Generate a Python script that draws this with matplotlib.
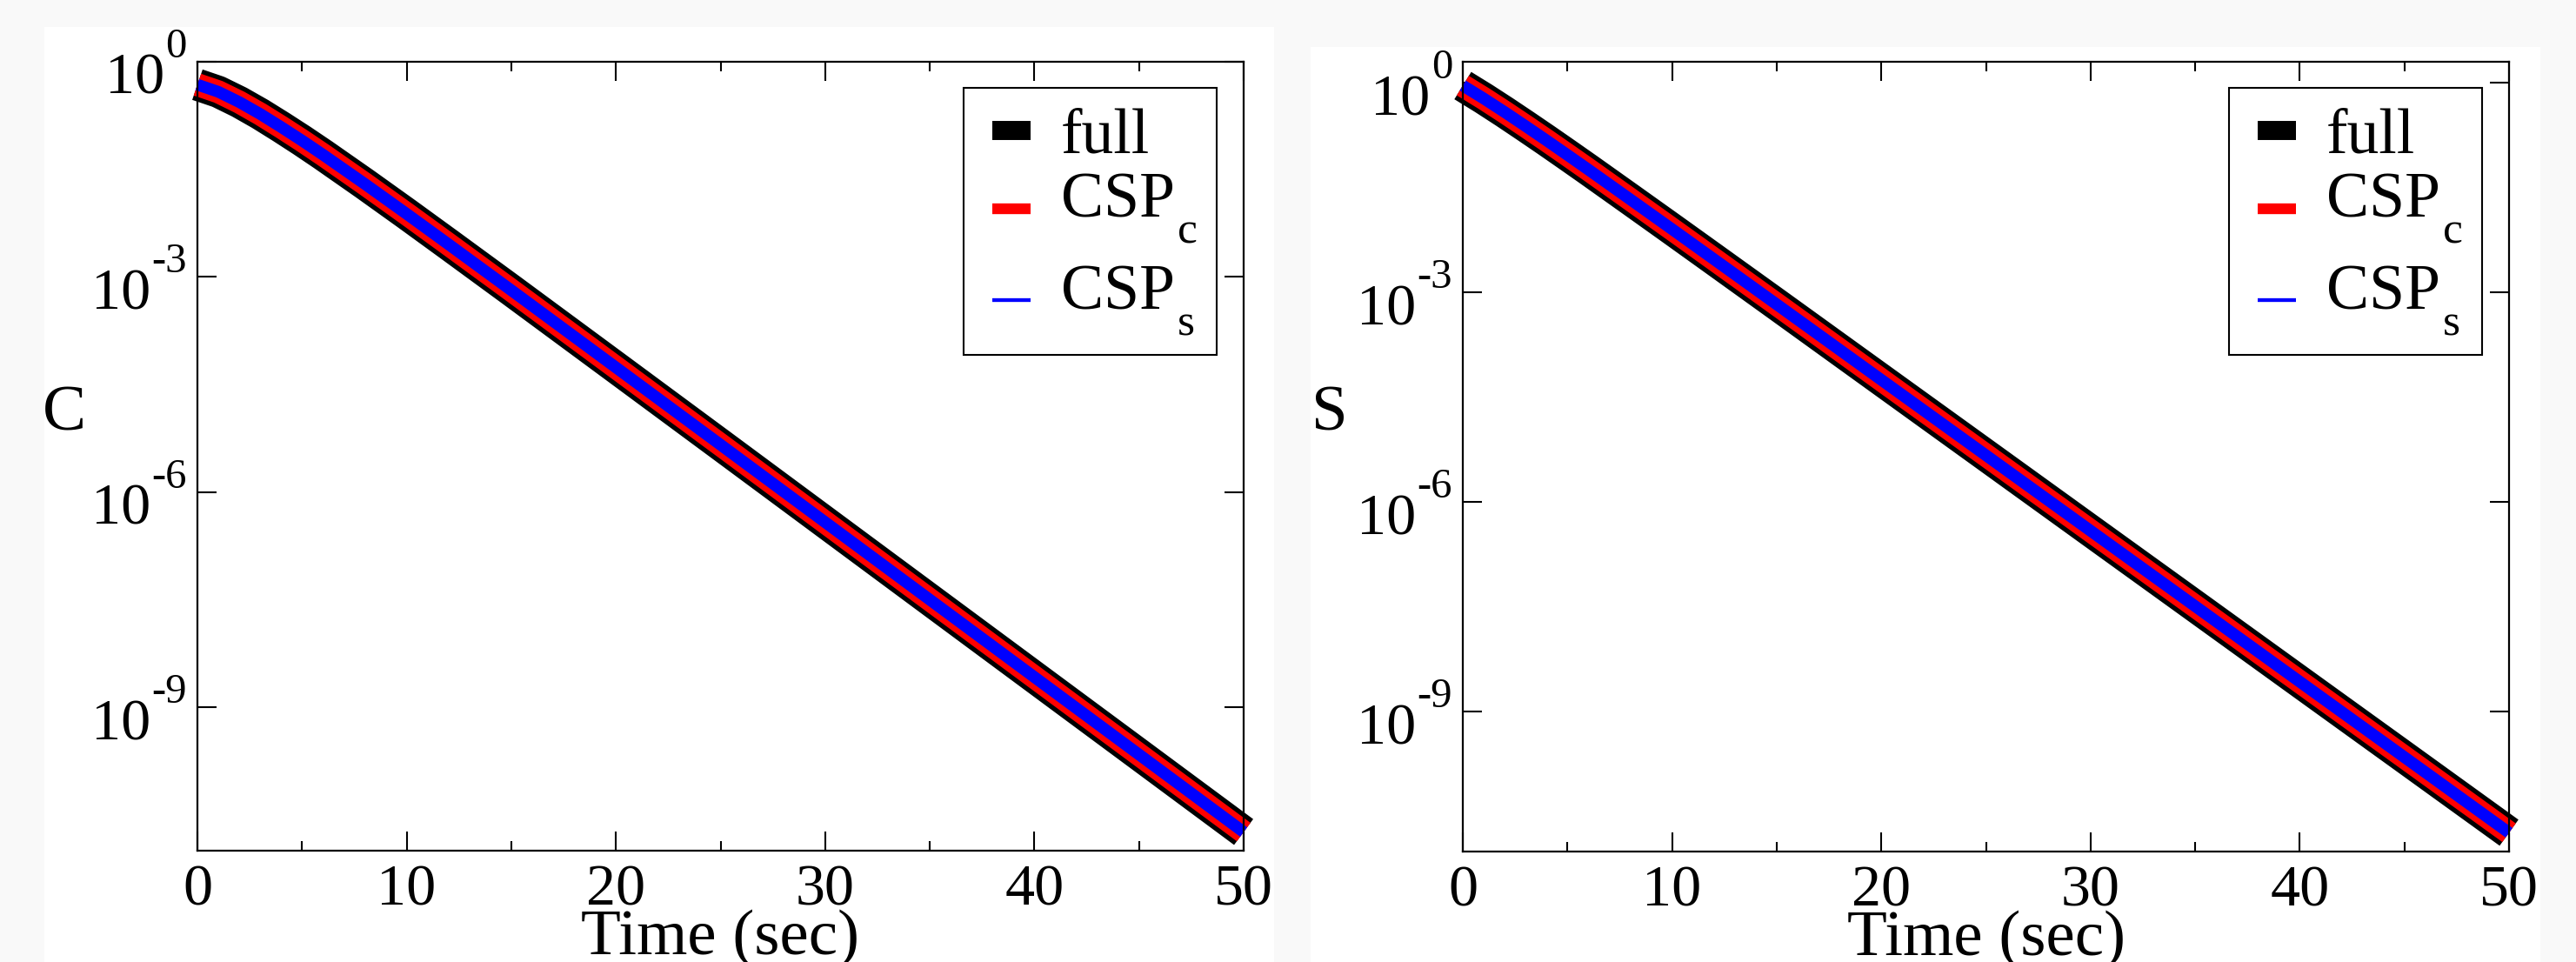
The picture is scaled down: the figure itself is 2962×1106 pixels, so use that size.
import matplotlib
matplotlib.use('Agg')
import numpy as np
import matplotlib.pyplot as plt
from matplotlib.patches import Rectangle
from matplotlib.transforms import blended_transform_factory
from matplotlib.ticker import FixedLocator, MultipleLocator, NullLocator, NullFormatter

plt.rcParams['font.family'] = ['Liberation Serif', 'DejaVu Serif']

# Time points (sec)
time = [0, 1, 2, 3, 4, 5, 6, 8, 10, 12, 15, 20, 25, 30, 35, 40, 45, 50]

# C: full model and the two CSP reductions lie on top of each other
c_full = [0.479, 0.381, 0.274, 0.187, 0.123, 0.0796, 0.0506, 0.0198, 7.57e-3, 2.85e-3,
          6.52e-4, 5.47e-5, 4.57e-6, 3.80e-7, 3.16e-8, 2.63e-9, 2.19e-10, 1.82e-11]
c_csp_c = list(c_full)
c_csp_s = list(c_full)

# S: same for the substrate
s_full = [0.912, 0.596, 0.381, 0.240, 0.150, 0.0929, 0.0573, 0.0215, 8.04e-3, 2.99e-3,
          6.76e-4, 5.62e-5, 4.68e-6, 3.89e-7, 3.24e-8, 2.69e-9, 2.24e-10, 1.86e-11]
s_csp_c = list(s_full)
s_csp_s = list(s_full)

# legend names: main text and subscript
series_names = [('full', ''), ('CSP', 'c'), ('CSP', 's')]
series_colors = ['black', 'red', 'blue']
curve_widths = [26.6, 19.0, 9.7]
legend_widths = [15.8, 8.9, 3.1]

y_ticks = [1.0, 1e-3, 1e-6, 1e-9]
x_ticks = [0, 10, 20, 30, 40, 50]

W, H = 2962, 1106
AX_W = 1203
PT = 0.72  # points per pixel at dpi 100


def draw_log_labels(ax, ticks):
    # xmgrace style 10^n labels: big "10", raised exponent with a plain hyphen
    ax.yaxis.set_major_formatter(NullFormatter())
    trans = blended_transform_factory(ax.transAxes, ax.transData)
    for v in ticks:
        e = int(round(np.log10(v)))
        sup = ax.annotate(str(e), xy=(0, v), xycoords=trans,
                          xytext=(-12 * PT, 5 * PT), textcoords='offset points',
                          ha='right', va='baseline', fontsize=35,
                          annotation_clip=False)
        ax.annotate('10', xy=(0, v), xycoords=(sup, trans),
                    xytext=(-1 * PT, -37 * PT), textcoords='offset points',
                    ha='right', va='baseline', fontsize=49,
                    annotation_clip=False)


def draw_legend(ax, ax_h):
    # box and entries placed in pixels from the top-left corner of the axes
    def fx(dx):
        return dx / AX_W

    def fy(dy):
        return 1 - dy / ax_h

    ax.add_patch(Rectangle((fx(881), fy(337)), fx(1172) - fx(881), fy(30) - fy(337),
                           transform=ax.transAxes, facecolor='white',
                           edgecolor='black', lw=1.5, zorder=5, clip_on=False))
    handle_y = [78.5, 168.5, 273.5]
    text_base = [104, 179, 284]
    for (name, sub), col, lw, hy, ty in zip(series_names, series_colors,
                                            legend_widths, handle_y, text_base):
        ax.plot([fx(914), fx(958)], [fy(hy), fy(hy)], color=col, lw=lw,
                solid_capstyle='butt', transform=ax.transAxes, zorder=6,
                clip_on=False)
        txt = ax.text(fx(993), fy(ty), name, transform=ax.transAxes,
                      fontsize=53, va='baseline', ha='left', zorder=6)
        if sub:
            ax.annotate(sub, xy=(1, fy(ty + 30)), xycoords=(txt, ax.transAxes),
                        xytext=(3 * PT, 0), textcoords='offset points',
                        fontsize=37, va='baseline', ha='left', zorder=6)


def draw_panel(ax, data, ylabel, ylim, ax_h):
    for vals, col, lw in zip(data, series_colors, curve_widths):
        ax.plot(time, vals, color=col, lw=lw, solid_capstyle='butt',
                solid_joinstyle='round', clip_on=False)
    ax.set_yscale('log')
    ax.set_xlim(0, 50)
    ax.set_ylim(*ylim)

    ax.xaxis.set_major_locator(FixedLocator(x_ticks))
    ax.xaxis.set_minor_locator(MultipleLocator(5))
    ax.yaxis.set_major_locator(FixedLocator(y_ticks))
    ax.yaxis.set_minor_locator(NullLocator())

    ax.tick_params(which='both', direction='in', top=True, right=True, width=1.5)
    ax.tick_params(which='major', length=15.8, labelsize=49)
    ax.tick_params(which='minor', length=7.9)
    ax.tick_params(axis='x', pad=11)
    for sp in ax.spines.values():
        sp.set_linewidth(1.6)

    draw_log_labels(ax, y_ticks)

    ax.set_xlabel('Time (sec)', fontsize=54)
    ax.xaxis.set_label_coords(0.5, -0.075)
    ax.set_ylabel(ylabel, fontsize=54, rotation=0, va='center', ha='center')
    ax.yaxis.set_label_coords(-0.127, 0.553)

    draw_legend(ax, ax_h)


fig = plt.figure(figsize=(W / 100, H / 100), dpi=100, facecolor='#f9f9f9')

# white panels behind each graph
fig.add_artist(Rectangle((51 / W, 0), (1465 - 51) / W, 1 - 31 / H,
                         transform=fig.transFigure, facecolor='white',
                         edgecolor='none', zorder=0))
fig.add_artist(Rectangle((1507 / W, 0), (2921 - 1507) / W, 1 - 54 / H,
                         transform=fig.transFigure, facecolor='white',
                         edgecolor='none', zorder=0))

ax1 = fig.add_axes([227 / W, 1 - 978 / H, AX_W / W, 907 / H])
ax2 = fig.add_axes([1682 / W, 1 - 979 / H, AX_W / W, 908 / H])

draw_panel(ax1, [c_full, c_csp_c, c_csp_s], 'C', (1e-11, 1.0), 907)
draw_panel(ax2, [s_full, s_csp_c, s_csp_s], 'S', (1e-11, 2.0), 908)

fig.savefig('out.png', dpi=100, facecolor=fig.get_facecolor())
